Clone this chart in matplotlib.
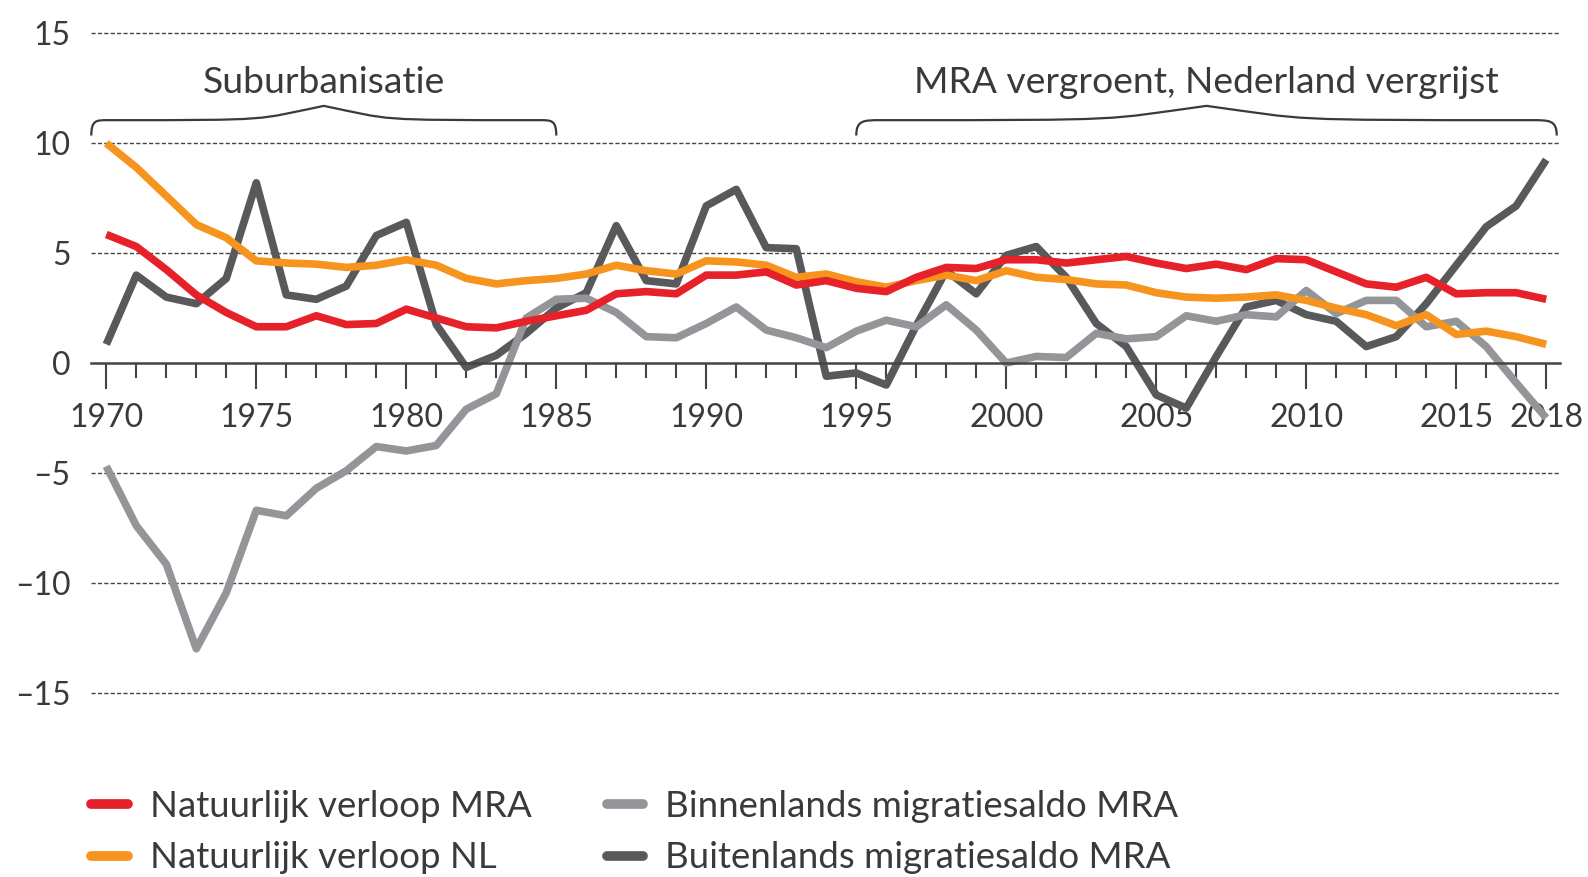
import matplotlib.pyplot as plt
from matplotlib.path import Path
from matplotlib.patches import PathPatch
from matplotlib.lines import Line2D

plt.rcParams['font.family'] = ['Lato', 'DejaVu Sans']

years = list(range(1970, 2019))

natuurlijk_mra = [5.85, 5.3, 4.25, 3.1, 2.3, 1.65, 1.65, 2.15, 1.75, 1.8,
                  2.45, 2.05, 1.65, 1.6, 1.9, 2.15, 2.4, 3.15, 3.25, 3.15,
                  4.0, 4.0, 4.15, 3.55, 3.75, 3.4, 3.25, 3.9, 4.35, 4.3,
                  4.7, 4.7, 4.55, 4.7, 4.85, 4.55, 4.3, 4.5, 4.25, 4.75,
                  4.7, 4.15, 3.6, 3.45, 3.9, 3.15, 3.2, 3.2, 2.9]

natuurlijk_nl = [10.0, 8.9, 7.6, 6.3, 5.7, 4.65, 4.55, 4.5, 4.35, 4.45,
                 4.7, 4.45, 3.85, 3.6, 3.75, 3.85, 4.05, 4.45, 4.2, 4.05,
                 4.65, 4.6, 4.45, 3.9, 4.05, 3.7, 3.45, 3.75, 4.0, 3.75,
                 4.2, 3.9, 3.8, 3.6, 3.55, 3.2, 3.0, 2.95, 3.0, 3.1,
                 2.85, 2.5, 2.2, 1.7, 2.2, 1.3, 1.45, 1.2, 0.85]

binnenlands_mra = [-4.7, -7.4, -9.15, -13.0, -10.45, -6.7, -6.95, -5.7, -4.9, -3.8,
                   -4.0, -3.75, -2.1, -1.4, 2.05, 2.9, 2.95, 2.3, 1.2, 1.15,
                   1.8, 2.55, 1.5, 1.15, 0.7, 1.45, 1.95, 1.65, 2.65, 1.5,
                   0.0, 0.3, 0.25, 1.35, 1.1, 1.2, 2.15, 1.9, 2.2, 2.1,
                   3.3, 2.25, 2.85, 2.85, 1.65, 1.9, 0.75, -0.9, -2.5]

buitenlands_mra = [0.85, 4.0, 3.0, 2.7, 3.85, 8.2, 3.1, 2.9, 3.5, 5.8,
                   6.4, 1.75, -0.2, 0.35, 1.35, 2.5, 3.2, 6.25, 3.75, 3.6,
                   7.15, 7.9, 5.25, 5.2, -0.6, -0.45, -1.0, 1.7, 4.2, 3.15,
                   4.9, 5.3, 3.9, 1.8, 0.75, -1.45, -2.05, 0.3, 2.55, 2.85,
                   2.2, 1.9, 0.75, 1.2, 2.7, 4.45, 6.2, 7.15, 9.25]

series_labels = ['Natuurlijk verloop MRA', 'Natuurlijk verloop NL',
                 'Binnenlands migratiesaldo MRA', 'Buitenlands migratiesaldo MRA']
series_colors = ['#e62129', '#f7941d', '#939598', '#58595b']

major_years = [1970, 1975, 1980, 1985, 1990, 1995, 2000, 2005, 2010, 2015, 2018]
y_ticks = [-15, -10, -5, 0, 5, 10, 15]
y_ticklabels = ['\u201315', '\u201310', '\u20135', '0', '5', '10', '15']
grid_levels = [-15, -10, -5, 5, 10, 15]

# periods marked with a brace above the lines
periods = ['Suburbanisatie', 'MRA vergroent, Nederland vergrijst']
period_spans = [(1969.5, 1985.0), (1995.0, 2018.35)]

TXT = '#3a3a3a'
FS = 23      # tick labels
FS_TXT = 26.8  # annotations
FS_LEG = 26.4  # legend


def draw_brace(ax, x0, x1, y_end, y_body, y_tip):
    xc = (x0 + x1) / 2
    w = x1 - x0
    h = 0.035 * w
    verts = [(x0, y_end),
             (x0, y_body), (x0 + 0.3 * h, y_body), (x0 + h, y_body),
             (x0 + 0.4 * w, y_body), (xc - 0.15 * w, y_body), (xc, y_tip),
             (xc + 0.15 * w, y_body), (x1 - 0.4 * w, y_body), (x1 - h, y_body),
             (x1 - 0.3 * h, y_body), (x1, y_body), (x1, y_end)]
    codes = [Path.MOVETO] + [Path.CURVE4] * 12
    ax.add_patch(PathPatch(Path(verts, codes), fill=False, lw=1.6,
                           edgecolor=TXT, clip_on=False, zorder=3))


fig = plt.figure(figsize=(15.88, 8.77), dpi=100)
ax = fig.add_axes([0.0575, 0.2026, 0.9247, 0.7669])
ax.set_xlim(1969.5, 2018.45)
ax.set_ylim(-15.3, 15.3)

for name, sp in ax.spines.items():
    sp.set_visible(name == 'bottom')
ax.spines['bottom'].set_position(('data', 0))
ax.spines['bottom'].set_color('#444444')
ax.spines['bottom'].set_linewidth(1.8)

for v in grid_levels:
    ax.axhline(v, color='#444444', lw=1.0, ls=(0, (3, 1.6)), zorder=1)

data = [natuurlijk_mra, natuurlijk_nl, binnenlands_mra, buitenlands_mra]
zorders = [2.3, 2.2, 2.15, 2.1]
for vals, col, z in zip(data, series_colors, zorders):
    ax.plot(years, vals, color=col, lw=5.5, solid_joinstyle='round',
            solid_capstyle='butt', zorder=z)

ax.set_xticks(major_years)
ax.set_xticklabels([str(y) for y in major_years])
ax.set_xticks(years, minor=True)
ax.tick_params(axis='x', which='major', length=18.5, width=1.5, color='#444444',
               pad=10, labelsize=FS, labelcolor=TXT)
ax.tick_params(axis='x', which='minor', length=11, width=1.5, color='#444444')

ax.set_yticks(y_ticks)
ax.set_yticklabels(y_ticklabels)
ax.tick_params(axis='y', length=0, pad=15, labelsize=FS, labelcolor=TXT)

for label, (x0, x1) in zip(periods, period_spans):
    draw_brace(ax, x0, x1, 10.35, 11.05, 11.7)
    ax.text((x0 + x1) / 2, 12.75, label, ha='center', va='center',
            fontsize=FS_TXT, color=TXT)

handles = [Line2D([], [], color=c, lw=7, solid_capstyle='round') for c in series_colors]
fig.legend(handles, series_labels, loc='center left', bbox_to_anchor=(0.0573, 0.051),
           bbox_transform=fig.transFigure, ncol=2, frameon=False, fontsize=FS_LEG,
           handlelength=1.0, handletextpad=0.6, columnspacing=2.05, labelspacing=0.5,
           borderpad=0, borderaxespad=0, labelcolor=TXT)

fig.savefig('out.png', dpi=100)
